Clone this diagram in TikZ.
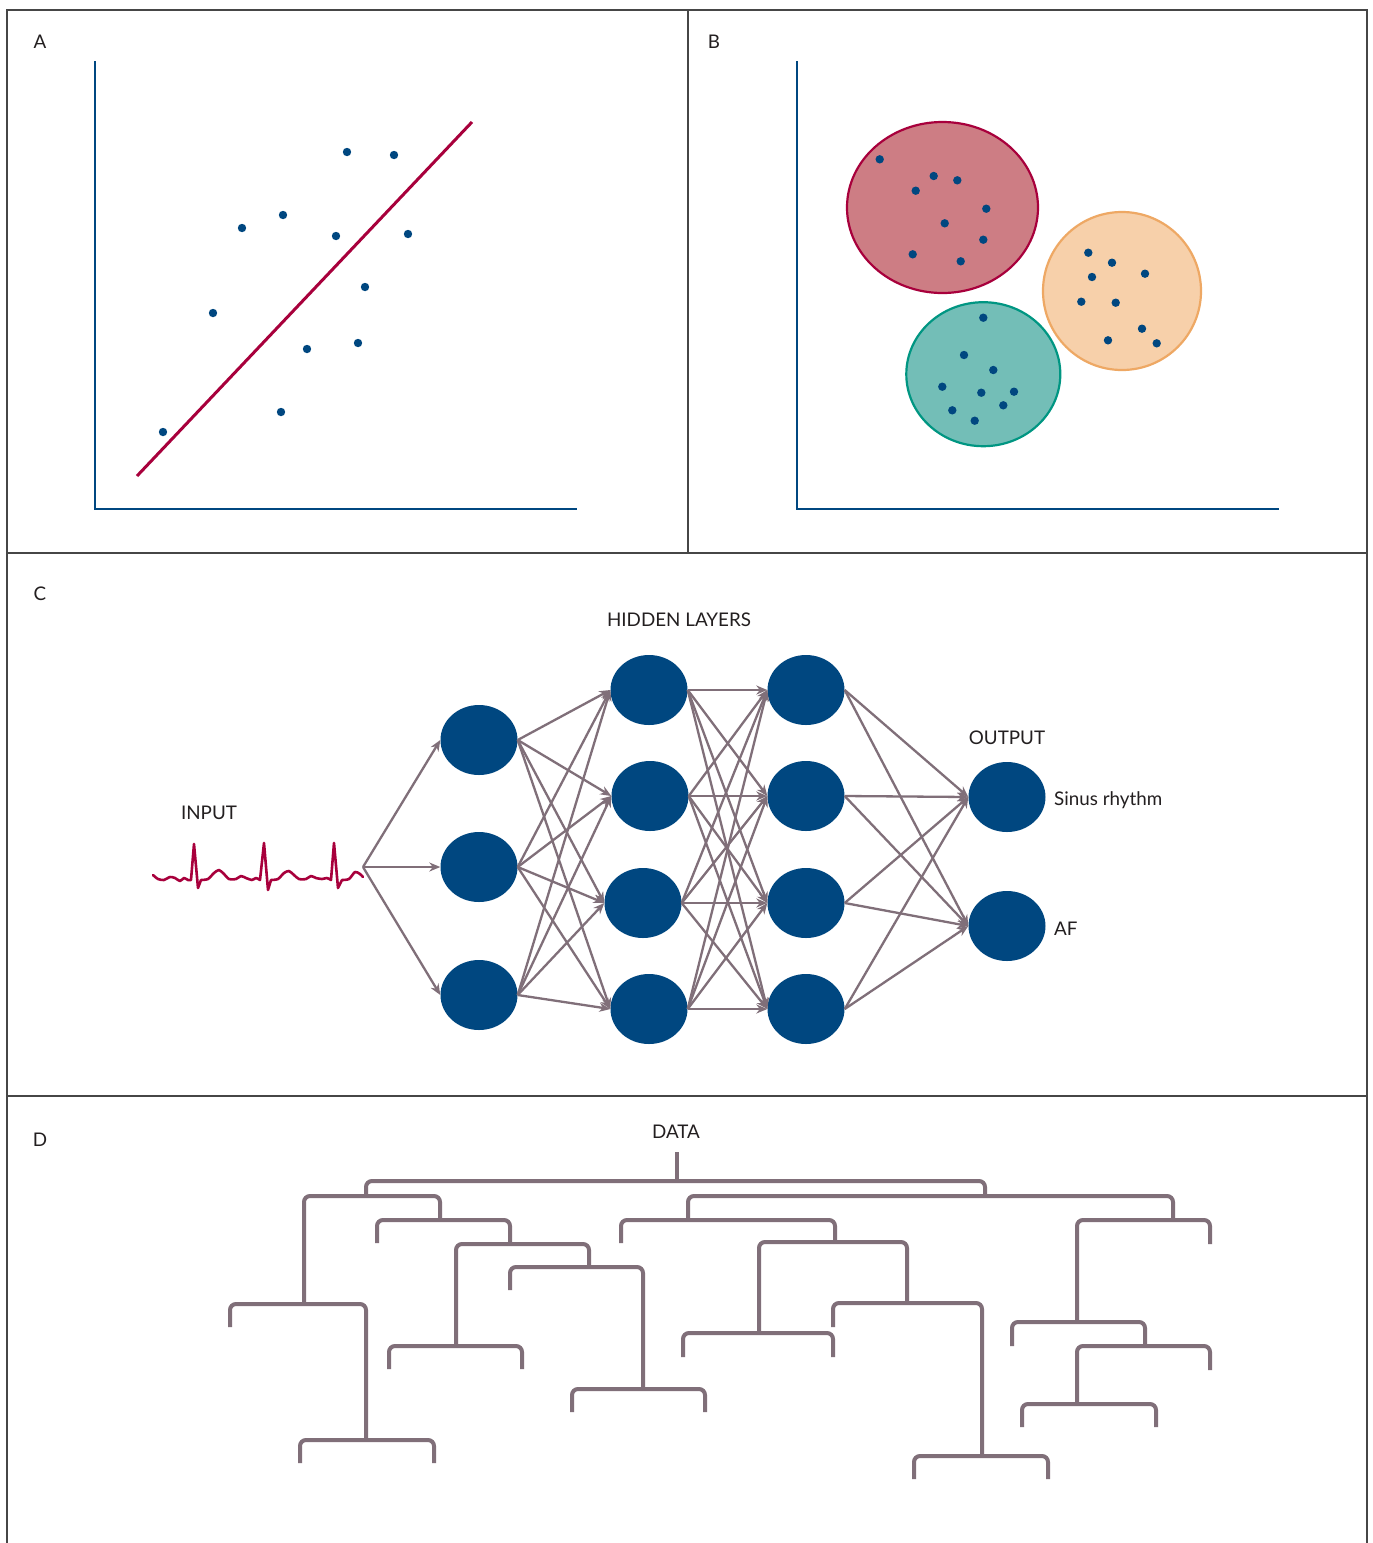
\documentclass[tikz,border=0pt]{standalone}
\usepackage{fontspec}
\setmainfont{Lato}
\usetikzlibrary{shapes.geometric,arrows.meta}
\definecolor{nblue}{RGB}{0,71,128}
\definecolor{ncrim}{RGB}{168,0,60}
\definecolor{nmauve}{RGB}{128,111,121}
\definecolor{redfill}{RGB}{205,125,132}
\definecolor{orfill}{RGB}{247,208,170}
\definecolor{orline}{RGB}{238,168,100}
\definecolor{tefill}{RGB}{115,190,183}
\definecolor{teline}{RGB}{0,150,130}
\definecolor{txt}{RGB}{35,31,32}
\definecolor{frame}{RGB}{70,70,70}
\newcommand\dbr[5]{\draw[dend] (#1,#2) -- (#1,#5) -- (#3,#5) -- (#3,#4);}
\begin{document}
\begin{tikzpicture}[x=1pt,y=-1pt,
  frameline/.style={draw=frame,line width=1.4pt},
  axis/.style={draw=nblue,line width=2pt},
  dot/.style={fill=nblue},
  lbl/.style={text=txt,font=\fontsize{18.8}{22}\selectfont,inner sep=0pt},
  neuron/.style={ellipse,fill=nblue,minimum width=77pt,minimum height=70pt,inner sep=0pt},
  conn/.style={draw=nmauve,line width=2.3pt,-{Stealth[length=11pt,width=9pt]}},
  dend/.style={draw=nmauve,line width=4pt,rounded corners=6pt},
  clus/.style={line width=2.2pt}
]
\useasboundingbox (0,0) rectangle (1373,1543);
\fill[white] (0,0) rectangle (1373,1543);
% frame
\draw[frameline] (7,1543) -- (7,10) -- (1367,10) -- (1367,1543);
\draw[frameline] (688,10) -- (688,553);
\draw[frameline] (7,553) -- (1367,553);
\draw[frameline] (7,1096) -- (1367,1096);
% panel labels
\node[lbl] (labA) at (40,42) {A};
\node[lbl] (labB) at (714,42) {B};
\node[lbl] (labC) at (40,594) {C};
\node[lbl] (labD) at (40,1140) {D};
% ---------- Panel A ----------
\draw[axis] (95,61) -- (95,509) -- (577,509);
\draw[draw=ncrim,line width=3pt] (137,476) -- (472,122);
\foreach \p in {(347,152),(394,155),(283,215),(242,228),(336,236),(408,234),(365,287),(213,313),(307,349),(358,343),(281,412),(163,432)}
  \fill[dot] \p circle (4.2);
% ---------- Panel B ----------
\draw[axis] (797,61) -- (797,509) -- (1279,509);
\filldraw[clus,fill=redfill,draw=ncrim] (942.5,207.5) ellipse [x radius=95.5,y radius=85.5];
\filldraw[clus,fill=orfill,draw=orline] (1122,291) ellipse [x radius=79,y radius=79];
\filldraw[clus,fill=tefill,draw=teline] (983.3,374.2) ellipse [x radius=77,y radius=72];
\foreach \p in {(879.7,159.3),(933.7,176),(957.3,180.3),(915.7,190.7),(986.3,208.7),(944.7,223.3),(983.3,239.7),(912.7,254.3),(960.7,261.3),
  (1088.3,252.7),(1112,262.7),(1145,273.7),(1092,277),(1081.3,301.7),(1115.7,302.7),(1142,328.7),(1108,340.3),(1156.7,343.3),
  (983.3,317.7),(964,355),(993.3,370),(942.3,386.7),(981.3,392.7),(1014,391.7),(1003.3,405.3),(952.3,410.3),(974.7,420.7)}
  \fill[dot] \p circle (4.2);
% ---------- Panel C ----------
\node[lbl] (hid) at (679,620) {HIDDEN LAYERS};
\node[lbl] (outl) at (1007,738) {OUTPUT};
\node[lbl] (inl) at (209,813) {INPUT};
\draw[draw=ncrim,line width=2.6pt,line join=round,line cap=round]
  plot[smooth,tension=0.45] coordinates {(153,875) (158,879) (164,880) (170,877) (175,878) (180,881) (184,878) (188,880) (191,880)}
  -- (194,844) -- (198,888) -- (201,880)
  plot[smooth,tension=0.45] coordinates {(201,880) (208,879) (214,873) (219,870) (224,874) (229,879) (236,879) (241,876) (246,878) (252,880) (256,878) (260,880)}
  -- (264,843) -- (268,890) -- (271,880)
  plot[smooth,tension=0.45] coordinates {(271,880) (278,879) (284,873) (289,871) (294,875) (299,879) (306,879) (311,876) (316,878) (322,879) (327,878) (331,880)}
  -- (334,843) -- (338,888) -- (342,880)
  plot[smooth,tension=0.45] coordinates {(342,880) (349,879) (355,872) (360,874) (363,877)};
\coordinate (ecg) at (363,867);
\node[neuron] (a1) at (479,740) {};
\node[neuron] (a2) at (479,867) {};
\node[neuron] (a3) at (479,995) {};
\node[neuron] (b1) at (649,690) {};
\node[neuron] (b2) at (650,796) {};
\node[neuron] (b3) at (643,903) {};
\node[neuron] (b4) at (649,1009) {};
\node[neuron] (c1) at (806,690) {};
\node[neuron] (c2) at (806,796) {};
\node[neuron] (c3) at (806,903) {};
\node[neuron] (c4) at (806,1009) {};
\node[neuron] (o1) at (1007,797) {};
\node[neuron] (o2) at (1007,926) {};
\node[lbl,anchor=west] (sr) at (1054,800) {Sinus rhythm};
\node[lbl,anchor=west] (af) at (1054,929) {AF};
\foreach \t in {a1,a2,a3} \draw[conn] (ecg) -- (\t.west);
\foreach \s in {a1,a2,a3} \foreach \t in {b1,b2,b3,b4} \draw[conn] (\s.east) -- (\t.west);
\foreach \s in {b1,b2,b3,b4} \foreach \t in {c1,c2,c3,c4} \draw[conn] (\s.east) -- (\t.west);
\foreach \s in {c1,c2,c3,c4} \foreach \t in {o1,o2} \draw[conn] (\s.east) -- (\t.west);
% ---------- Panel D ----------
\node[lbl] (data) at (676,1132) {DATA};
\draw[draw=nmauve,line width=4pt] (677,1152) -- (677,1181);
\dbr{366}{1196}{985}{1196}{1181}
% left subtree
\dbr{304}{1304}{440}{1220}{1196}
\dbr{230}{1327}{366}{1440}{1304}
\dbr{300}{1463}{434}{1463}{1440}
\dbr{377}{1243}{510}{1244}{1220}
\dbr{456}{1346}{589}{1267}{1244}
\dbr{389}{1369}{522}{1369}{1346}
\dbr{510}{1290}{643}{1389}{1267}
\dbr{572}{1412}{705}{1412}{1389}
% right subtree
\dbr{688}{1220}{1173}{1220}{1196}
\dbr{621}{1243}{835}{1242}{1220}
\dbr{759}{1333}{907}{1303}{1242}
\dbr{683}{1357}{833}{1357}{1333}
\dbr{833}{1327}{982}{1456}{1303}
\dbr{914}{1479}{1048}{1479}{1456}
\dbr{1077}{1322}{1210}{1244}{1220}
\dbr{1012}{1346}{1145}{1346}{1322}
\dbr{1077}{1404}{1210}{1370}{1346}
\dbr{1022}{1427}{1156}{1427}{1404}
\end{tikzpicture}
\end{document}
